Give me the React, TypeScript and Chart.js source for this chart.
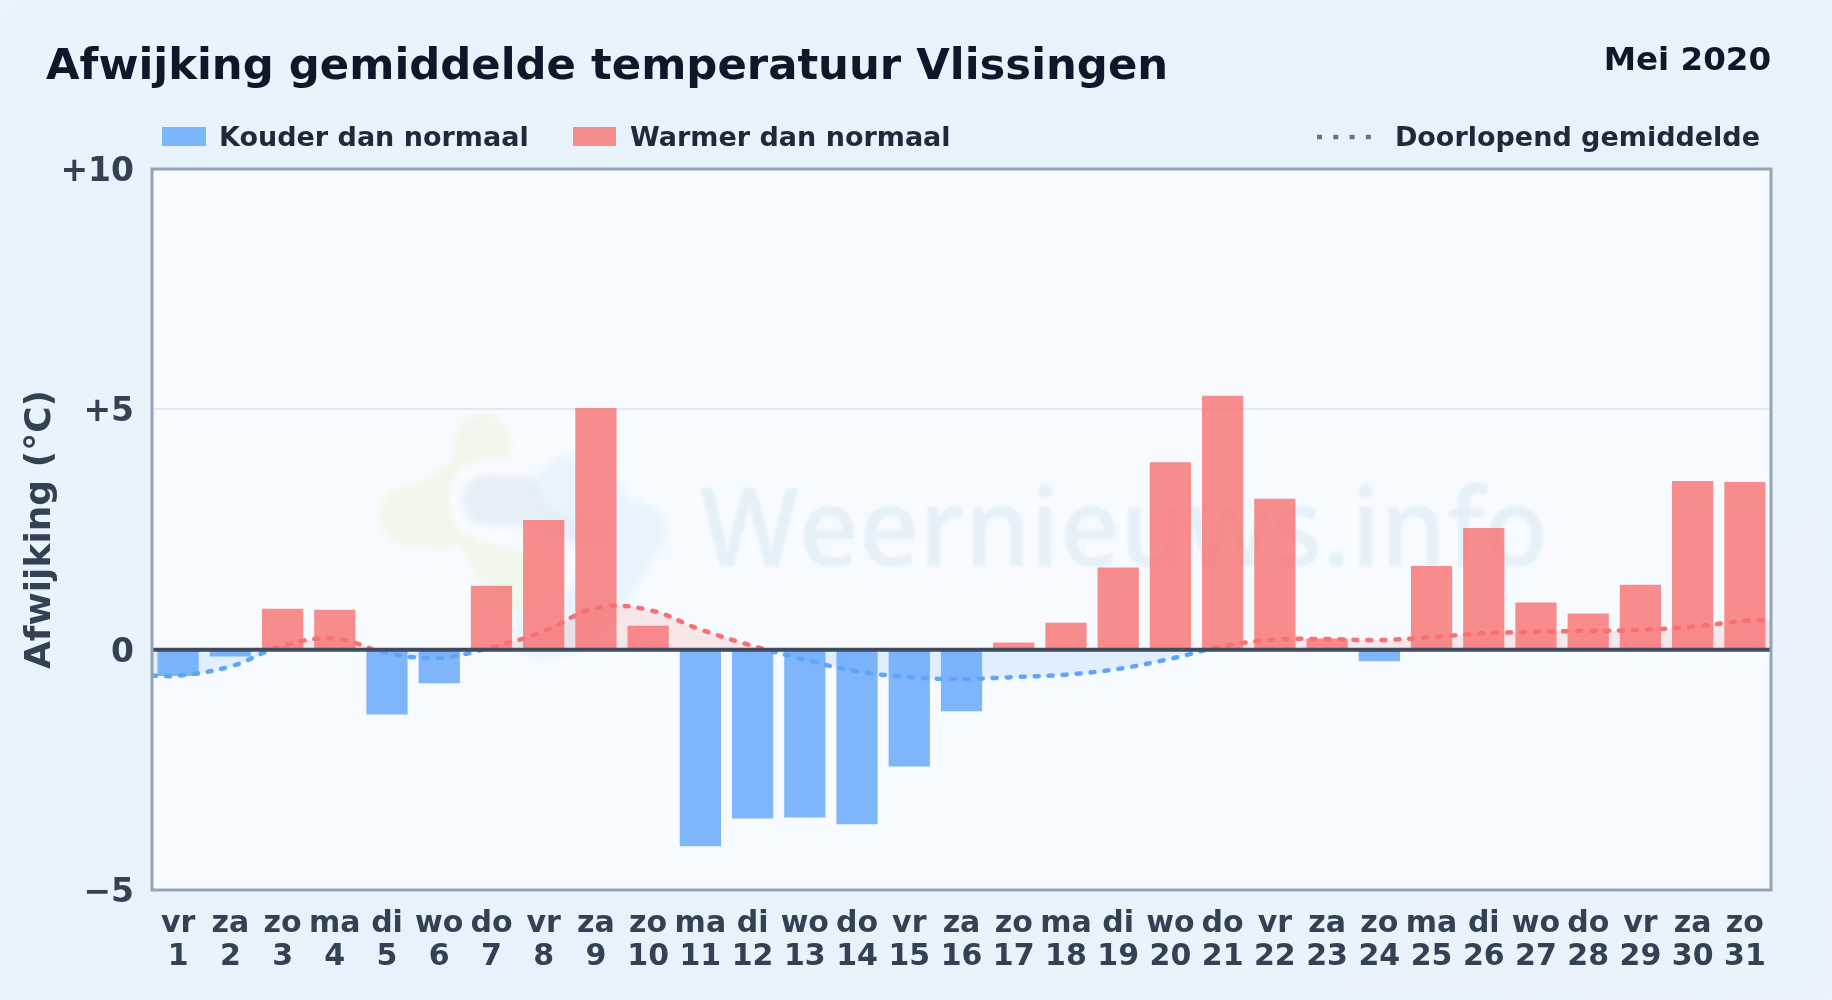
import React, { useEffect, useRef } from "react";
import { Chart, registerables } from "chart.js";

Chart.register(...registerables);

const FONT = "'DejaVu Sans', sans-serif";

const titleText = "Afwijking gemiddelde temperatuur Vlissingen";
const periodText = "Mei 2020";
const axisTitle = "Afwijking (°C)";
const watermarkText = "Weernieuws.info";
const coldLabel = "Kouder dan normaal";
const warmLabel = "Warmer dan normaal";
const avgLabel = "Doorlopend gemiddelde";

const weekdays = ["vr","za","zo","ma","di","wo","do","vr","za","zo","ma","di","wo","do","vr","za","zo","ma","di","wo","do","vr","za","zo","ma","di","wo","do","vr","za","zo"];
const days = [1,2,3,4,5,6,7,8,9,10,11,12,13,14,15,16,17,18,19,20,21,22,23,24,25,26,27,28,29,30,31];
const deviation = [-0.55,-0.14,0.85,0.83,-1.35,-0.70,1.33,2.70,5.03,0.50,-4.09,-3.51,-3.49,-3.63,-2.43,-1.28,0.15,0.56,1.71,3.90,5.28,3.14,0.23,-0.24,1.74,2.53,0.98,0.75,1.35,3.51,3.49];
const avgX = [0.5,1,2,3,4,5,6,7,8,9,10,11,12,13,14,15,16,17,18,19,20,21,22,23,24,25,26,27,28,29,30,31,31.5];
const avgY = [-0.54,-0.54,-0.35,0.08,0.23,-0.07,-0.17,0.05,0.38,0.87,0.83,0.42,0.08,-0.21,-0.45,-0.57,-0.61,-0.57,-0.52,-0.40,-0.19,0.07,0.21,0.22,0.20,0.26,0.34,0.37,0.39,0.41,0.48,0.60,0.62];
const yTicks = [-5, 0, 5, 10];

const BLUE_BAR = "rgba(96,165,250,0.8)";
const RED_BAR = "rgba(248,113,113,0.8)";
const BLUE_LINE = "#60a5fa";
const RED_LINE = "#f87171";

function stroke(ctx: CanvasRenderingContext2D, color: string, width: number, pts: number[][][]) {
  ctx.strokeStyle = color;
  ctx.lineWidth = width;
  ctx.lineCap = "round";
  ctx.lineJoin = "round";
  ctx.beginPath();
  for (const path of pts) {
    path.forEach(([x, y], i) => (i ? ctx.lineTo(x, y) : ctx.moveTo(x, y)));
  }
  ctx.stroke();
}

const backdrop = {
  id: "backdrop",
  beforeDatasetsDraw(chart: any) {
    const { ctx, chartArea: a } = chart;
    ctx.save();
    ctx.beginPath();
    ctx.rect(a.left, a.top, a.width, a.height);
    ctx.clip();
    ctx.filter = "blur(3px)";
    // logo
    stroke(ctx, "#f0f7ec", 58, [[[483, 443], [478, 480], [415, 518]], [[470, 500], [500, 560], [520, 585]], [[408, 515], [440, 520]]]);
    stroke(ctx, "#f7fbff", 84, [[[490, 500], [540, 512]]]);
    stroke(ctx, "#f7fbff", 24, [[[590, 590], [583, 655]]]);
    stroke(ctx, "#e6eff8", 50, [[[487, 500], [530, 502], [585, 522]]]);
    stroke(ctx, "#e8f4fd", 54, [[[566, 483], [600, 500]], [[630, 525], [640, 530], [610, 580], [575, 625], [540, 632]]]);
    ctx.filter = "blur(1px)";
    // watermark text
    ctx.fillStyle = "#e6f0f9";
    ctx.font = `600 108px 'Open Sans', sans-serif`;
    ctx.textAlign = "left";
    ctx.textBaseline = "alphabetic";
    ctx.fillText(watermarkText, 700, 566, 848);
    ctx.restore();
  },
  beforeDraw(chart: any) {
    const { ctx, chartArea: a } = chart;
    ctx.save();
    ctx.fillStyle = "#f7fbff";
    ctx.fillRect(a.left, a.top, a.width, a.height);
    ctx.restore();
  },
  afterDatasetsDraw(chart: any) {
    const { ctx, chartArea: a, scales } = chart;
    const y0 = scales.y.getPixelForValue(0);
    ctx.save();
    ctx.strokeStyle = "#3f4b5e";
    ctx.lineWidth = 4;
    ctx.beginPath();
    ctx.moveTo(a.left, y0);
    ctx.lineTo(a.right, y0);
    ctx.stroke();
    ctx.strokeStyle = "#94a3b8";
    ctx.lineWidth = 3;
    ctx.strokeRect(a.left, a.top, a.width, a.height);
    ctx.restore();
  },
  afterDraw(chart: any) {
    const { ctx } = chart;
    ctx.save();
    ctx.textBaseline = "alphabetic";
    ctx.textAlign = "left";
    ctx.fillStyle = "#0f172a";
    ctx.font = `bold 43.35px ${FONT}`;
    ctx.fillText(titleText, 46, 79);
    ctx.textAlign = "right";
    ctx.font = `bold 32.5px ${FONT}`;
    ctx.fillText(periodText, 1771, 70);
    // legend
    ctx.textAlign = "left";
    ctx.font = `bold 27px ${FONT}`;
    ctx.fillStyle = BLUE_BAR;
    ctx.fillRect(162, 127, 44, 19);
    ctx.fillStyle = RED_BAR;
    ctx.fillRect(573, 127, 43, 19);
    ctx.fillStyle = "#1e293b";
    ctx.fillText(coldLabel, 219, 146);
    ctx.fillText(warmLabel, 630, 146);
    ctx.textAlign = "right";
    ctx.fillText(avgLabel, 1760, 146);
    ctx.strokeStyle = "#64748b";
    ctx.lineWidth = 4.5;
    ctx.setLineDash([5, 11.3]);
    ctx.beginPath();
    ctx.moveTo(1317, 137);
    ctx.lineTo(1377, 137);
    ctx.stroke();
    ctx.restore();
  },
};

export default function App() {
  const ref = useRef<HTMLCanvasElement>(null);
  useEffect(() => {
    document.body.style.margin = "0";
    const canvas = ref.current!;
    const zeroGradient = (c: any) => {
      const { chart } = c;
      const { ctx, scales, chartArea } = chart;
      if (!chartArea || !scales.y) return RED_LINE;
      const g = ctx.createLinearGradient(0, chartArea.top, 0, chartArea.bottom);
      const p = (scales.y.getPixelForValue(0) - chartArea.top) / chartArea.height;
      g.addColorStop(0, RED_LINE);
      g.addColorStop(p, RED_LINE);
      g.addColorStop(p, BLUE_LINE);
      g.addColorStop(1, BLUE_LINE);
      return g;
    };
    const chart = new Chart(canvas, {
      type: "bar",
      data: {
        labels: weekdays.map((w, i) => [w, String(days[i])]),
        datasets: [
          {
            type: "line",
            label: avgLabel,
            data: avgX.map((x, i) => ({ x, y: avgY[i] })),
            xAxisID: "xAvg",
            yAxisID: "y",
            order: 0,
            borderColor: zeroGradient,
            borderWidth: 4.5,
            borderDash: [4, 10],
            borderCapStyle: "round",
            tension: 0.4,
            pointRadius: 0,
            fill: { target: { value: 0 }, above: "rgba(248,113,113,0.15)", below: "rgba(96,165,250,0.15)" },
          } as any,
          {
            label: coldLabel,
            data: deviation.map((v) => (v < 0 ? v : null)),
            backgroundColor: BLUE_BAR,
            grouped: false,
            order: 1,
            barPercentage: 0.79,
            categoryPercentage: 1,
          } as any,
          {
            label: warmLabel,
            data: deviation.map((v) => (v >= 0 ? v : null)),
            backgroundColor: RED_BAR,
            grouped: false,
            order: 1,
            barPercentage: 0.79,
            categoryPercentage: 1,
          } as any,
        ],
      },
      options: {
        responsive: false,
        animation: false,
        devicePixelRatio: 1,
        layout: { padding: { top: 169, left: 19, right: 61, bottom: 0 } },
        plugins: { legend: { display: false }, title: { display: false }, tooltip: { enabled: false } },
        scales: {
          x: {
            offset: true,
            grid: { display: false },
            border: { display: false },
            afterFit: (s: any) => { s.height = 110; },
            ticks: {
              autoSkip: false,
              maxRotation: 0,
              minRotation: 0,
              padding: 10,
              color: "#334155",
              font: { family: FONT, weight: "bold", size: 30, lineHeight: 1.1 },
            },
          },
          xAvg: {
            type: "linear",
            display: false,
            offset: false,
            min: 0.5,
            max: 31.5,
          },
          y: {
            min: -5,
            max: 10,
            grid: { color: "#e2e8f0", lineWidth: 2, drawTicks: false },
            border: { display: false },
            afterFit: (s: any) => { s.width = 133; },
            afterBuildTicks: (s: any) => { s.ticks = yTicks.map((value) => ({ value })); },
            title: {
              display: true,
              text: axisTitle,
              color: "#334155",
              font: { family: FONT, weight: "bold", size: 36 },
              padding: 0,
            },
            ticks: {
              padding: 18,
              labelOffset: 3.5,
              color: "#334155",
              font: { family: FONT, weight: "bold", size: 33 },
              callback: (v: any) => (v > 0 ? `+${v}` : v < 0 ? `\u2212${Math.abs(v)}` : "0"),
            },
          },
        },
      },
      plugins: [backdrop],
    } as any);
    return () => chart.destroy();
  }, []);
  return (
    <div style={{ width: 1832, height: 1000, background: "linear-gradient(135deg,#e8f3fb,#e7f2fc 50%,#eaf3fb)" }}>
      <canvas ref={ref} width={1832} height={1000} style={{ display: "block" }} />
    </div>
  );
}
